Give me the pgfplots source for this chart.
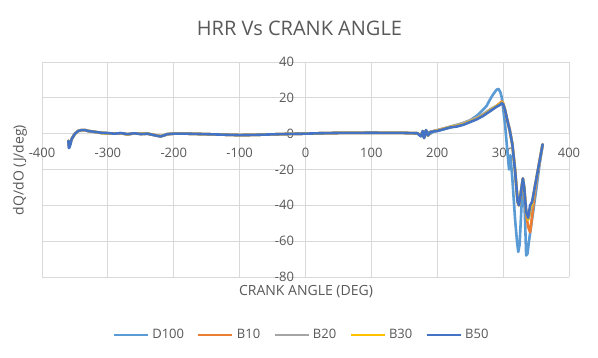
\documentclass[border=0pt]{standalone}
\usepackage{fontspec}
\setmainfont{Open Sans}
\usepackage{pgfplots}
\usepackage{pgfplotstable}
\pgfplotsset{compat=1.18}
\definecolor{cD}{HTML}{5B9BD5}
\definecolor{cBa}{HTML}{ED7D31}
\definecolor{cBb}{HTML}{A5A5A5}
\definecolor{cBc}{HTML}{FFC000}
\definecolor{cBe}{HTML}{4472C4}
\definecolor{txt}{HTML}{595959}
\definecolor{grd}{HTML}{D9D9D9}

\pgfplotstableread{
x y
-360 -4
-359 -8
-357 -6
-355 -3
-350 0
-345 1.5
-340 2
-335 2
-330 1.5
-320 1
-310 0.5
-300 0.3
-290 0
-280 0.3
-270 -0.3
-260 0.2
-250 -0.2
-240 0
-230 -0.8
-225 -1.2
-220 -1.5
-215 -1.0
-210 -0.3
-200 0
-180 0
-150 -0.3
-120 -0.6
-100 -0.8
-80 -0.7
-60 -0.5
-40 -0.3
-20 -0.1
0 0
20 0.2
50 0.4
100 0.5
150 0.4
170 0.2
175 -1
178 1
180 -2
182 1.5
185 -1
188 1
190 0
195 1.5
200 1.5
210 2.5
220 3.5
230 4.5
240 6
250 7.5
260 10
270 13.5
275 15.5
280 19
285 22
290 24.5
293 25
296 23
298 20
300 14
303 5
306 -8
309 -20
311 -12
314 -25
318 -47
321 -60
323 -66
325 -62
328 -40
331 -27
333 -45
335 -68
337 -67
340 -58
345 -45
350 -32
355 -18
360 -6
}\tD

\pgfplotstableread{
x y
-360 -4
-359 -7
-357 -5
-355 -3
-350 0
-345 1.5
-340 2
-335 2
-330 1.5
-320 1
-310 0.4
-300 0.2
-290 0.1
-280 0.2
-270 -0.4
-260 0.2
-250 -0.1
-240 0
-230 -0.7
-225 -1.1
-220 -1.4
-215 -1.0
-210 -0.3
-200 0
-180 0
-150 -0.3
-120 -0.6
-100 -0.8
-80 -0.7
-60 -0.5
-40 -0.3
-20 -0.1
0 0
20 0.2
50 0.4
100 0.5
150 0.4
170 0.2
175 -1.2
178 1.2
180 -2.2
183 1.8
186 -1
190 1
200 1.8
210 2.8
220 3.8
230 4.5
240 5.5
250 7
260 8.5
270 10.5
280 13
290 15.5
295 17
298 18
300 17
303 13
306 8
310 2
314 -6
318 -20
322 -38
324 -40
327 -33
330 -26
332 -31
335 -45
338 -52
341 -55
344 -46
348 -33
352 -23
356 -14
360 -6
}\tBa

\pgfplotstableread{
x y
-360 -4
-359 -7
-357 -5
-355 -3
-350 0
-345 1.5
-340 2
-335 2
-330 1.5
-320 1
-310 0.4
-300 0.2
-290 0.1
-280 0.2
-270 -0.4
-260 0.2
-250 -0.1
-240 0
-230 -0.7
-225 -1.1
-220 -1.4
-215 -1.0
-210 -0.3
-200 0
-180 0
-150 -0.3
-120 -0.6
-100 -0.8
-80 -0.7
-60 -0.5
-40 -0.3
-20 -0.1
0 0
20 0.2
50 0.4
100 0.5
150 0.4
170 0.2
175 -1.3
178 1.3
180 -2.3
183 1.9
186 -1
190 1
200 2
210 3
220 4
230 5
240 6
250 7.5
260 9
270 11
280 13.5
290 15.5
295 16.5
298 17.5
300 16.5
303 13
306 8
310 2
314 -6
318 -20
322 -37
324 -39
327 -32
330 -25
332 -30
335 -43
338 -48
341 -44
344 -40
348 -31
352 -22
356 -14
360 -6
}\tBb

\pgfplotstableread{
x y
-360 -4
-359 -7
-357 -5
-355 -3
-350 0
-345 1.5
-340 2
-335 2
-330 1.5
-320 1
-310 0.4
-300 0.2
-290 0.1
-280 0.2
-270 -0.4
-260 0.2
-250 -0.1
-240 0
-230 -0.7
-225 -1.1
-220 -1.4
-215 -1.0
-210 -0.3
-200 0
-180 0
-150 -0.3
-120 -0.6
-100 -0.8
-80 -0.7
-60 -0.5
-40 -0.3
-20 -0.1
0 0
20 0.2
50 0.4
100 0.5
150 0.4
170 0.2
175 -1.2
178 1.4
180 -2.4
183 1.9
186 -1
190 1
200 1.7
210 2.7
220 3.7
230 4.3
240 5.3
250 6.8
260 8.3
270 10.3
280 12.8
290 15.3
295 16.5
298 17.5
300 16.8
303 13
306 8
310 2
314 -6
318 -20
322 -38
324 -40
327 -33
330 -25
332 -30
335 -44
338 -48
341 -42
344 -39
348 -30
352 -22
356 -14
360 -6
}\tBc

\pgfplotstableread{
x y
-360 -4
-359 -8
-357 -6
-355 -3
-350 0
-345 1.5
-340 2
-335 2
-330 1.5
-320 1
-310 0.5
-300 0.3
-290 0
-280 0.3
-270 -0.3
-260 0.2
-250 -0.2
-240 0
-230 -0.8
-225 -1.2
-220 -1.5
-215 -1.0
-210 -0.3
-200 0
-180 0
-150 -0.3
-120 -0.6
-100 -0.8
-80 -0.7
-60 -0.5
-40 -0.3
-20 -0.1
0 0
20 0.2
50 0.4
100 0.5
150 0.4
170 0.2
175 -1.5
178 1.5
180 -2.5
183 2
186 -1
190 1
200 1.5
210 2.5
220 3.5
230 4
240 5
250 6.5
260 8
270 10
280 12.5
290 15
295 16
298 17
300 16.5
303 13
306 8
310 2
314 -6
318 -20
322 -38
324 -40
327 -33
330 -25
332 -30
335 -44
338 -47
341 -40
344 -38
348 -30
352 -22
356 -14
360 -6
}\tBe

\begin{document}
\begin{tikzpicture}
\path[use as bounding box, fill=white] (0pt,0pt) rectangle (598pt,358pt);
\begin{axis}[
  at={(42pt,81pt)}, anchor=south west,
  scale only axis, width=527pt, height=215pt,
  xmin=-400, xmax=400, ymin=-80, ymax=40,
  xtick={-400,-300,...,400}, ytick={-80,-60,...,40},
  axis lines=middle,
  axis line style={grd, line width=0.75pt, -},
  grid=major, grid style={grd, line width=0.75pt},
  major tick length=0pt,
  hide obscured x ticks=false, hide obscured y ticks=false,
  tick label style={font=\fontsize{13}{13}\selectfont, text=txt},
  /pgf/number format/assume math mode=true,
  xticklabel style={anchor=center, yshift=-19pt},
  yticklabel style={anchor=east, xshift=-8pt},
  legend columns=5,
  legend style={draw=none, at={(0.4905,-0.2697)}, anchor=center,
    font=\fontsize{13}{13}\selectfont, text=txt,
    nodes={inner xsep=0pt},
    /tikz/every odd column/.append style={column sep=3pt},
    /tikz/every even column/.append style={column sep=13pt}},
  legend image code/.code={\draw[#1, line width=2.8pt, line cap=butt] (0pt,0pt) -- (34pt,0pt);},
  every axis plot/.append style={line width=2.6pt, line join=round, line cap=round},
]
\addplot[cD] table {\tD};
\addplot[cBa] table {\tBa};
\addplot[cBb] table {\tBb};
\addplot[cBc] table {\tBc};
\addplot[cBe] table {\tBe};
\legend{D100,B10,B20,B30,B50}
\end{axis}
\node[text=txt, font=\fontsize{20}{20}\selectfont] at (299.5pt,330pt) {HRR Vs CRANK ANGLE};
\node[text=txt, font=\fontsize{14}{14}\selectfont] at (306pt,66pt) {CRANK ANGLE (DEG)};
\node[text=txt, font=\fontsize{14}{14}\selectfont, rotate=90] at (20pt,188pt) {dQ/dO (J/deg)};
\end{tikzpicture}
\end{document}
